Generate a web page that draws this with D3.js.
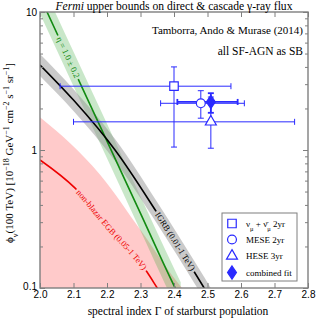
<!DOCTYPE html>
<html><head><meta charset="utf-8">
<script src="https://cdn.jsdelivr.net/npm/d3@7"></script>
<style>
html,body{margin:0;padding:0;background:#fff;}
svg{display:block;font-family:"Liberation Serif","Times New Roman",serif;}
</style></head>
<body><svg id="c" width="316" height="320"></svg>
<script>
// ---- data ----
const xTicks = [2.0, 2.1, 2.2, 2.3, 2.4, 2.5, 2.6, 2.7, 2.8];
const xTickLabels = ["2.0","2.1","2.2","2.3","2.4","2.5","2.6","2.7","2.8"];
const yTicks = [0.1, 1, 10];
const yTickLabels = ["0.1", "1", "10"];
const yMinor = [0.2,0.3,0.4,0.5,0.6,0.7,0.8,0.9,2,3,4,5,6,7,8,9];

// eta = 1.0 +- 0.2 (green)
const etaGamma = [2.00, 2.10, 2.20, 2.30, 2.40, 2.42];
const etaPhi   = [12.9, 3.86, 1.16, 0.347, 0.104, 0.083];
const etaHi    = [17.2, 5.15, 1.55, 0.46, 0.139, 0.110];
const etaLo    = [9.7, 2.90, 0.87, 0.26, 0.078, 0.062];

// IGRB (0.01-1 TeV) (black)
const igrbGamma = [2.00, 2.10, 2.224, 2.35, 2.49, 2.52];
const igrbPhi   = [4.13, 2.30, 1.00, 0.349, 0.100, 0.076];
const igrbHi    = [4.96, 2.76, 1.20, 0.419, 0.120, 0.091];
const igrbLo    = [3.44, 1.92, 0.833, 0.291, 0.083, 0.063];

// non-blazar EGB (0.05-1 TeV) (red) and its band upper edge
const egbGamma = [2.00, 2.104, 2.20, 2.319, 2.35, 2.37];
const egbPhi   = [0.847, 0.531, 0.284, 0.131, 0.100, 0.084];
const egbBandGamma = [2.00, 2.09, 2.18, 2.30, 2.424, 2.45];
const egbBandHi    = [1.73, 1.12, 0.66, 0.263, 0.100, 0.085];

// IceCube fits
const fitNames  = ["ν_μ + ν̄_μ 2yr", "MESE 2yr", "HESE 3yr", "combined fit"];
const fitShape  = ["square", "circle", "triangle", "diamond"];
const fitGamma  = [2.40, 2.48, 2.51, 2.51];
const fitGLo    = [2.06, 2.36, 2.10, 2.41];
const fitGHi    = [2.57, 2.61, 2.76, 2.59];
const fitPhi    = [2.90, 2.18, 1.60, 2.23];
const fitPLo    = [1.05, 1.70, 1.03, 1.86];
const fitPHi    = [4.00, 2.69, 2.42, 2.58];

// ---- layout ----
const svg = d3.select("#c");
const L = 40, R = 308, T = 12, B = 288;
const x = d3.scaleLinear().domain([2.0, 2.8]).range([L, R]);
const y = d3.scaleLog().domain([0.1, 10]).range([B, T]);
const blue = "#2a2aff", spine = "#7f7f7f";

svg.append("defs").append("clipPath").attr("id","clip")
  .append("rect").attr("x",L).attr("y",T).attr("width",R-L).attr("height",B-T);
const g = svg.append("g").attr("clip-path","url(#clip)");

const line = (gs, ps) => d3.line().x((d,i)=>x(gs[i])).y((d,i)=>y(ps[i])).curve(d3.curveMonotoneX)(gs);
const area = (gs, lo, hi) => d3.area().x((d,i)=>x(gs[i])).y0((d,i)=>y(lo[i])).y1((d,i)=>y(hi[i])).curve(d3.curveMonotoneX)(gs);

// pink EGB band (fills down to bottom)
g.append("path").attr("d", area(egbBandGamma, egbBandGamma.map(()=>0.05), egbBandHi))
  .attr("fill","#ffcaca");
// green band
g.append("path").attr("d", area(etaGamma, etaLo, etaHi)).attr("fill","rgba(60,170,60,0.28)");
// gray band
g.append("path").attr("d", area(igrbGamma, igrbLo, igrbHi)).attr("fill","rgba(150,150,150,0.5)");

function labelledLine(gs, ps, color, text, startGamma, textColor) {
  const p = g.append("path").attr("d", line(gs, ps)).attr("fill","none")
    .attr("stroke", color).attr("stroke-width", 1.6);
  const id = "p" + Math.random().toString(36).slice(2);
  p.attr("id", id);
  const node = p.node();
  const Ltot = node.getTotalLength();
  const xs = x(startGamma);
  let lo = 0, hi = Ltot;
  for (let k=0;k<40;k++){ const m=(lo+hi)/2; if (node.getPointAtLength(m).x < xs) lo=m; else hi=m; }
  const s0 = lo;
  const t = g.append("text").attr("font-size", 8.6).attr("fill", textColor).attr("dy","0.33em");
  t.append("textPath").attr("href", "#" + id).attr("startOffset", s0).text(text);
  const tl = t.node().getComputedTextLength();
  const pad = 2;
  p.attr("stroke-dasharray", `${s0 - pad} ${tl + 2*pad} ${Ltot}`);
}

labelledLine(egbGamma, egbPhi, "#ee0000", "non-blazar EGB (0.05-1 TeV)", 2.113, "#ee0000");
labelledLine(etaGamma, etaPhi, "#128a12", "η = 1.0 ± 0.2", 2.056, "#128a12");
labelledLine(igrbGamma, igrbPhi, "#000", "IGRB (0.01-1 TeV)", 2.350, "#000");

// data points with error bars
const eb = svg.append("g").attr("stroke", blue).attr("fill","none");
fitGamma.forEach((gv, i) => {
  const sw = fitShape[i] === "diamond" ? 1.8 : 1;
  const cx = x(gv), cy = y(fitPhi[i]);
  const xl = x(fitGLo[i]), xr = x(fitGHi[i]), yt = y(fitPHi[i]), yb = y(fitPLo[i]);
  eb.append("line").attr("x1",xl).attr("x2",xr).attr("y1",cy).attr("y2",cy).attr("stroke-width",sw);
  eb.append("line").attr("x1",cx).attr("x2",cx).attr("y1",yt).attr("y2",yb).attr("stroke-width",sw);
  [xl,xr].forEach(v=>eb.append("line").attr("x1",v).attr("x2",v).attr("y1",cy-3).attr("y2",cy+3).attr("stroke-width",sw));
  [yt,yb].forEach(v=>eb.append("line").attr("x1",cx-3).attr("x2",cx+3).attr("y1",v).attr("y2",v).attr("stroke-width",sw));
});
function marker(sel, shape, cx, cy) {
  const s = shape==="square"?d3.symbolSquare:shape==="circle"?d3.symbolCircle:shape==="triangle"?d3.symbolTriangle:d3.symbolDiamond;
  const size = shape==="square"?72:shape==="circle"?62:shape==="triangle"?52:62;
  sel.append("path").attr("d", d3.symbol(s, size)())
    .attr("transform", `translate(${cx},${cy})` + (shape==="diamond"?" scale(1.05,0.9)":""))
    .attr("fill", shape==="diamond"?blue:"#fff").attr("stroke", blue).attr("stroke-width", 1.2);
}
fitGamma.forEach((gv,i)=>marker(svg, fitShape[i], x(gv), y(fitPhi[i])));

// axes (inward ticks, all four sides)
const ax = svg.append("g").attr("font-size", 11.5).attr("font-family","Liberation Serif, serif");
const fmtX = (d)=>xTickLabels[xTicks.indexOf(d)];
ax.append("g").attr("transform",`translate(0,${B})`).call(d3.axisBottom(x).tickValues(xTicks).tickFormat(fmtX).tickSize(-5).tickPadding(3));
ax.append("g").attr("transform",`translate(0,${T})`).call(d3.axisTop(x).tickValues(xTicks).tickFormat("").tickSize(-5));
ax.append("g").attr("transform",`translate(${L},0)`).call(d3.axisLeft(y).tickValues(yTicks).tickFormat((d)=>yTickLabels[yTicks.indexOf(d)]).tickSize(-5).tickPadding(3));
ax.append("g").attr("transform",`translate(${L},0)`).call(d3.axisLeft(y).tickValues(yMinor).tickFormat("").tickSize(-3));
ax.append("g").attr("transform",`translate(${R},0)`).call(d3.axisRight(y).tickValues(yTicks).tickFormat("").tickSize(-5));
ax.append("g").attr("transform",`translate(${R},0)`).call(d3.axisRight(y).tickValues(yMinor).tickFormat("").tickSize(-3));
ax.selectAll(".domain").remove();
ax.selectAll(".tick line").attr("stroke", spine);
ax.selectAll(".tick text").attr("fill","#000");
// lift the "0.1" label slightly so it clears the "2.0" label
ax.selectAll(".tick text").filter(d=>d===0.1).attr("dy","0.1em");
svg.append("rect").attr("x",L).attr("y",T).attr("width",R-L).attr("height",B-T)
  .attr("fill","none").attr("stroke",spine).attr("stroke-width",1.4);

// titles / labels
const title = svg.append("text").attr("x",(L+R)/2).attr("y",10).attr("text-anchor","middle").attr("font-size",11.6);
title.append("tspan").attr("font-style","italic").text("Fermi");
title.append("tspan").text(" upper bounds on direct & cascade γ-ray flux");

svg.append("text").attr("x",303).attr("y",34).attr("text-anchor","end").attr("font-size",11)
  .text("Tamborra, Ando & Murase (2014)");
svg.append("text").attr("x",303).attr("y",55).attr("text-anchor","end").attr("font-size",11.5)
  .text("all SF-AGN as SB");

svg.append("text").attr("x",(L+R)/2+4).attr("y",315).attr("text-anchor","middle").attr("font-size",11.5)
  .text("spectral index Γ of starburst population");

const yl = svg.append("text").attr("transform",`translate(13,${(T+B)/2 + 3}) rotate(-90)`).attr("text-anchor","middle").attr("font-size",11);
const parts = [["ϕ",0],["ν",-1],["(100 TeV) [10",0],["−18",1],[" GeV",0],["−1",1],[" cm",0],["−2",1],[" s",0],["−1",1],[" sr",0],["−1",1],["]",0]];
parts.forEach(([t,s])=>{
  const ts = yl.append("tspan").text(t);
  if (s===1) ts.attr("baseline-shift","super").attr("font-size",8);
  if (s===-1) ts.attr("baseline-shift","sub").attr("font-size",8);
});

// legend
const lg = svg.append("g");
lg.append("rect").attr("x",222).attr("y",213).attr("width",75).attr("height",68)
  .attr("fill","#fff").attr("stroke",spine).attr("stroke-width",1);
const legY = [223.5, 239.5, 256, 272.5];
fitNames.forEach((n,i)=>{
  marker(lg, fitShape[i], 232, legY[i]);
  const t = lg.append("text").attr("x",246).attr("y",legY[i]+3).attr("font-size",9);
  if (i===0) {
    t.append("tspan").text("ν");
    t.append("tspan").attr("baseline-shift","sub").attr("font-size",6.5).text("μ");
    t.append("tspan").text(" + ν\u0304");
    t.append("tspan").attr("baseline-shift","sub").attr("font-size",6.5).text("μ");
    t.append("tspan").text(" 2yr");
  } else t.text(n);
});
</script></body></html>
